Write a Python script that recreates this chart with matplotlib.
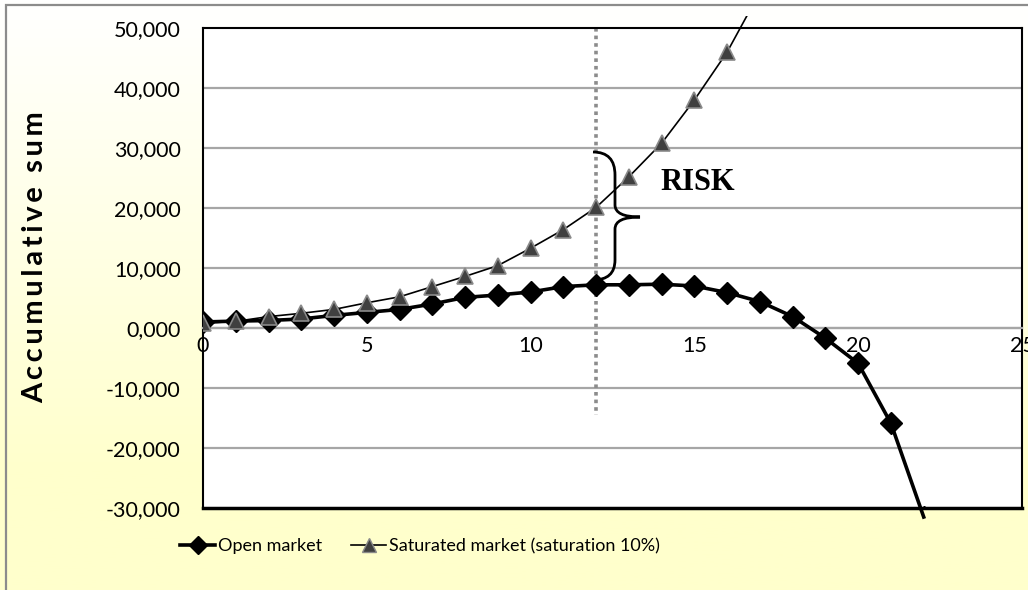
import numpy as np
import matplotlib
matplotlib.use("Agg")
import matplotlib.pyplot as plt
from matplotlib.path import Path
from matplotlib.patches import PathPatch, Rectangle

plt.rcParams['font.family'] = ['Lato', 'DejaVu Sans']

# Accumulative sum per period
periods = list(range(0, 23))
open_market = [1000, 1150, 1250, 1500, 2100, 2600, 3100, 4000, 5100, 5500, 6000, 6900,
               7200, 7200, 7300, 7000, 5900, 4400, 1900, -1700, -5900, -15900, -31500]
sat_periods = list(range(0, 18))
saturated_market = [800, 1100, 1900, 2450, 3100, 4200, 5200, 6900, 8600, 10400, 13300, 16400,
                    20100, 25200, 30800, 38000, 46000, 56000]

y_ticks = [-30000, -20000, -10000, 0, 10000, 20000, 30000, 40000, 50000]
x_ticks = [0, 5, 10, 15, 20, 25]
risk_period = 12

W, H = 1028, 590
fig = plt.figure(figsize=(W / 100, H / 100), dpi=100)

# soft white-to-yellow chart background
bg = fig.add_axes([0, 0, 1, 1], zorder=-10)
grad = np.linspace(0, 1, 256).reshape(-1, 1)
top = np.array([1.0, 1.0, 1.0])
bottom = np.array([1.0, 1.0, 0.80])
t = np.clip(grad * 1.25, 0, 1)
img = top * (1 - t[..., None]) + bottom * t[..., None]
bg.imshow(img, aspect='auto', extent=[0, 1, 0, 1], origin='upper')
bg.set_axis_off()
bg.add_patch(Rectangle((6 / W, -0.1), 1.2, 1.1 - 5 / H, transform=bg.transAxes,
                       fill=False, edgecolor='#8c8c8c', lw=1.6, clip_on=False))

ax = fig.add_axes([203 / W, 1 - 508 / H, (1022 - 203) / W, (508 - 28) / H])
ax.set_facecolor('white')
ax.set_xlim(0, 25)
ax.set_ylim(-30000, 50000)

for y in y_ticks[1:-1]:
    ax.axhline(y, color='#a6a6a6', lw=1.6, zorder=1)

ax.set_yticks(y_ticks)
ax.set_yticklabels([('-' if v < 0 else '') + ('{:,}'.format(abs(v)) if v != 0 else '0,000') for v in y_ticks])
ax.tick_params(axis='y', length=0, pad=16, labelsize=15.5, colors='black')

# x axis crosses at zero
ax.spines['bottom'].set_position(('data', 0))
ax.spines['bottom'].set_color('#a6a6a6')
ax.spines['bottom'].set_linewidth(1.6)
ax.set_xticks(x_ticks)
ax.tick_params(axis='x', length=0, pad=6, labelsize=15.5)
for s in ['left', 'right', 'top']:
    ax.spines[s].set_color('black')
    ax.spines[s].set_linewidth(1.5)
ax.axhline(-30000, color='black', lw=2.5, clip_on=False, zorder=5)

# dotted marker at the risk period
ax.plot([risk_period, risk_period], [50000, -14500], color='#8c8c8c', lw=2.6,
        linestyle=(0, (1, 1.1)), zorder=2)

clip = Rectangle((0, -32000), 25, 84000, transform=ax.transData)
l1, = ax.plot(periods, open_market, color='black', lw=2.6, zorder=4)
l1.set_clip_path(clip)
l2, = ax.plot(sat_periods, saturated_market, color='black', lw=1.2, zorder=3)
l2.set_clip_path(clip)
ax.plot(periods, open_market, linestyle='none', marker='D', ms=11.5, color='black', zorder=6)
ax.plot(sat_periods, saturated_market, linestyle='none', marker='^', ms=12,
        markerfacecolor='#404040', markeredgecolor='#8a8a8a', markeredgewidth=1.2, zorder=7)

# curly brace between the two curves
def px(x, y):
    return ((x - 203) / 32.76, (328 - y) / 60 * 10000)

verts = [px(593, 152), px(615, 152), px(615, 175), px(615, 190),
         px(615, 205), px(615, 217), px(640, 217),
         px(615, 217), px(615, 229), px(615, 245),
         px(615, 260), px(615, 280), px(593, 280)]
codes = [Path.MOVETO, Path.CURVE3, Path.CURVE3, Path.LINETO,
         Path.LINETO, Path.CURVE3, Path.CURVE3,
         Path.CURVE3, Path.CURVE3, Path.LINETO,
         Path.LINETO, Path.CURVE3, Path.CURVE3]
ax.add_patch(PathPatch(Path(verts, codes), fill=False, edgecolor='black', lw=2, zorder=8))
ax.text(13.95, 24300, 'RISK', fontsize=22, fontweight='bold', family='Liberation Serif',
        va='center', ha='left', zorder=8)

ylabel = '\u2009'.join('Accumulative sum')
fig.text(35 / W, 1 - 257 / H, ylabel, rotation=90, fontsize=21,
         fontweight='bold', ha='center', va='center')

leg_handles = [
    plt.Line2D([], [], color='black', lw=2.6, marker='D', ms=9),
    plt.Line2D([], [], color='black', lw=1.2, marker='^', ms=10,
               markerfacecolor='#404040', markeredgecolor='#8a8a8a'),
]
fig.legend(leg_handles, ['Open market', 'Saturated market (saturation 10%)'],
           loc='center', bbox_to_anchor=(420 / W, 1 - 546 / H), ncol=2, frameon=False,
           handlelength=1.95, handletextpad=0.15, columnspacing=1.6,
           prop={'family': ['Lato', 'DejaVu Sans'], 'size': 13})

fig.savefig('out.png', dpi=100)
